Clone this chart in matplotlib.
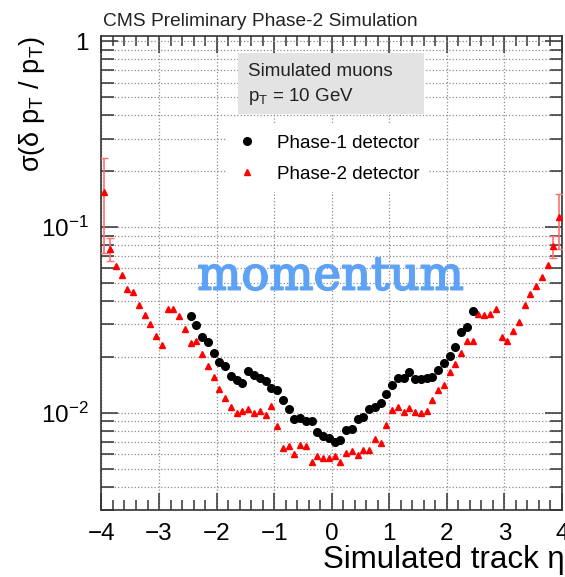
import matplotlib
matplotlib.use('Agg')
import matplotlib.pyplot as plt
import matplotlib.patheffects as pe
from matplotlib.patches import Rectangle
from matplotlib.ticker import LogLocator, MultipleLocator, FixedLocator
import numpy as np

plt.rcParams['font.family'] = ['Liberation Sans', 'DejaVu Sans']
plt.rcParams['mathtext.fontset'] = 'custom'
plt.rcParams['mathtext.rm'] = 'Liberation Sans'
plt.rcParams['mathtext.it'] = 'Liberation Sans:italic'

# eta bin centres
eta_phase2 = [-3.95, -3.85, -3.75, -3.65, -3.55, -3.45, -3.35, -3.25, -3.15, -3.05,
              -2.95, -2.85, -2.75, -2.65, -2.55, -2.45, -2.35, -2.25, -2.15, -2.05,
              -1.95, -1.85, -1.75, -1.65, -1.55, -1.45, -1.35, -1.25, -1.15, -1.05,
              -0.95, -0.85, -0.75, -0.65, -0.55, -0.45, -0.35, -0.25, -0.15, -0.05,
              0.05, 0.15, 0.25, 0.35, 0.45, 0.55, 0.65, 0.75, 0.85, 0.95,
              1.05, 1.15, 1.25, 1.35, 1.45, 1.55, 1.65, 1.75, 1.85, 1.95,
              2.05, 2.15, 2.25, 2.35, 2.45, 2.55, 2.65, 2.75, 2.85, 2.95,
              3.05, 3.15, 3.25, 3.35, 3.45, 3.55, 3.65, 3.75, 3.85, 3.95]
res_phase2 = [0.155, 0.0766, 0.0617, 0.055, 0.0467, 0.045, 0.0379, 0.0335, 0.0301, 0.0259,
              0.0231, 0.0361, 0.0361, 0.0332, 0.0282, 0.0239, 0.0244, 0.0207, 0.0179, 0.0157,
              0.0135, 0.0120, 0.0107, 0.0100, 0.0102, 0.0105, 0.0100, 0.0102, 0.0098, 0.0109,
              0.00845, 0.00644, 0.0066, 0.0060, 0.0067, 0.00665, 0.00545, 0.00587, 0.00575, 0.00575,
              0.00587, 0.00545, 0.00612, 0.0062, 0.00593, 0.00633, 0.00633, 0.00728, 0.00685, 0.00859,
              0.0104, 0.0107, 0.0101, 0.0106, 0.0101, 0.0100, 0.0102, 0.0117, 0.0133, 0.0141,
              0.0167, 0.0184, 0.0209, 0.0244, 0.0244, 0.0342, 0.0336, 0.0342, 0.0364, 0.0257,
              0.0244, 0.0276, 0.031, 0.0379, 0.0436, 0.048, 0.0538, 0.0628, 0.079, 0.113]
# only the outermost bins have visible errors
err_phase2 = [0.082, 0.011] + [0.0] * 76 + [0.011, 0.037]

eta_phase1 = [-2.45, -2.35, -2.25, -2.15, -2.05, -1.95, -1.85, -1.75, -1.65, -1.55,
              -1.45, -1.35, -1.25, -1.15, -1.05, -0.95, -0.85, -0.75, -0.65, -0.55,
              -0.45, -0.35, -0.25, -0.15, -0.05, 0.05, 0.15, 0.25, 0.35, 0.45,
              0.55, 0.65, 0.75, 0.85, 0.95, 1.05, 1.15, 1.25, 1.35, 1.45,
              1.55, 1.65, 1.75, 1.85, 1.95, 2.05, 2.15, 2.25, 2.35, 2.45]
res_phase1 = [0.0332, 0.0297, 0.0256, 0.0242, 0.0209, 0.0187, 0.0179, 0.0158, 0.0150, 0.01445,
              0.0168, 0.01595, 0.0155, 0.01486, 0.01358, 0.01324, 0.0117, 0.01047, 0.00925, 0.00936,
              0.00906, 0.00906, 0.0079, 0.00752, 0.00737, 0.00698, 0.00716, 0.0081, 0.00824, 0.00925,
              0.00956, 0.01056, 0.0108, 0.01137, 0.0126, 0.01414, 0.0155, 0.0155, 0.0166, 0.0153,
              0.0152, 0.0154, 0.0157, 0.017, 0.0185, 0.0202, 0.0225, 0.0273, 0.029, 0.0353]

fig = plt.figure(figsize=(5.65, 5.77), dpi=100)
ax = fig.add_axes([0.1796, 0.1161, 0.815, 0.8215])

ax.set_yscale('log')
ax.set_xlim(-4, 4)
ax.set_ylim(0.003, 1.07)

# error bars (phase-2 edges)
err = np.array(err_phase2)
mask = err > 0
ax.errorbar(np.array(eta_phase2)[mask], np.array(res_phase2)[mask], yerr=err[mask],
            fmt='none', ecolor='#ff7070', elinewidth=1.2, capsize=3, zorder=3)

h1, = ax.plot(eta_phase1, res_phase1, 'o', color='black', markersize=5.5,
              linestyle='none', label='Phase-1 detector', zorder=5)
h2, = ax.plot(eta_phase2, res_phase2, '^', color='#ff0000', markersize=5,
              linestyle='none', label='Phase-2 detector', zorder=4)

# ticks
ax.xaxis.set_major_locator(MultipleLocator(1))
ax.xaxis.set_minor_locator(MultipleLocator(0.2))
ax.yaxis.set_major_locator(FixedLocator([0.01, 0.1, 1]))
ax.yaxis.set_minor_locator(LogLocator(base=10, subs=np.arange(2, 10), numticks=20))
ax.set_yticklabels([r'$\mathregular{10^{-2}}$', r'$\mathregular{10^{-1}}$', '1'])
ax.tick_params(which='both', direction='in', top=True, right=True, color='#333333')
ax.tick_params(which='major', length=12, width=1.1, labelsize=17.5, pad=9)
ax.tick_params(which='minor', length=7, width=1.1)
ax.tick_params(axis='y', which='minor', length=9)

ax.grid(True, which='major', axis='x', linestyle=':', color='#8c8c8c', linewidth=0.9)
ax.grid(True, which='both', axis='y', linestyle=':', color='#8c8c8c', linewidth=0.9)
ax.set_axisbelow(True)
for s in ax.spines.values():
    s.set_linewidth(1.2)
    s.set_color('#333333')

ax.set_xlabel('Simulated track η', fontsize=22.5, ha='right', x=1.006, labelpad=0.5)
ax.set_ylabel(r'σ(δ p$_{\mathregular{T}}$ / p$_{\mathregular{T}}$)', fontsize=19.5, ha='right', y=1.0)
ax.yaxis.set_label_coords(-0.118, 1.0)

ax.text(0.003, 1.012, 'CMS Preliminary Phase-2 Simulation', transform=ax.transAxes,
        fontsize=13.8, ha='left', va='bottom', color='#222222')

# info box
ax.add_patch(Rectangle((0.2964, 0.8354), 0.404, 0.1287, transform=ax.transAxes,
                       facecolor='#e3e3e3', edgecolor='none', zorder=6))
ax.text(0.318, 0.9247, 'Simulated muons', transform=ax.transAxes, fontsize=13.5,
        va='center', ha='left', zorder=7, color='#222222')
ax.text(0.318, 0.872, r'p$_{\mathregular{T}}$ = 10 GeV', transform=ax.transAxes, fontsize=13.5,
        va='center', ha='left', zorder=7, color='#222222')

leg = ax.legend(handles=[h1, h2], loc='upper left', bbox_to_anchor=(0.272, 0.812),
                frameon=True, facecolor='white', edgecolor='none', framealpha=1,
                fontsize=13.5, handlelength=1.2, handletextpad=1.0, borderpad=0.5,
                labelspacing=0.75, borderaxespad=0)
leg.set_zorder(6)

ax.text(0.497, 0.465, 'momentum', transform=ax.transAxes, fontsize=33.5,
        family='DejaVu Serif', color='#5ea2f5', ha='center', va='baseline', zorder=8,
        path_effects=[pe.withStroke(linewidth=1.3, foreground='#5ea2f5')])

fig.savefig('out.png', dpi=100)
